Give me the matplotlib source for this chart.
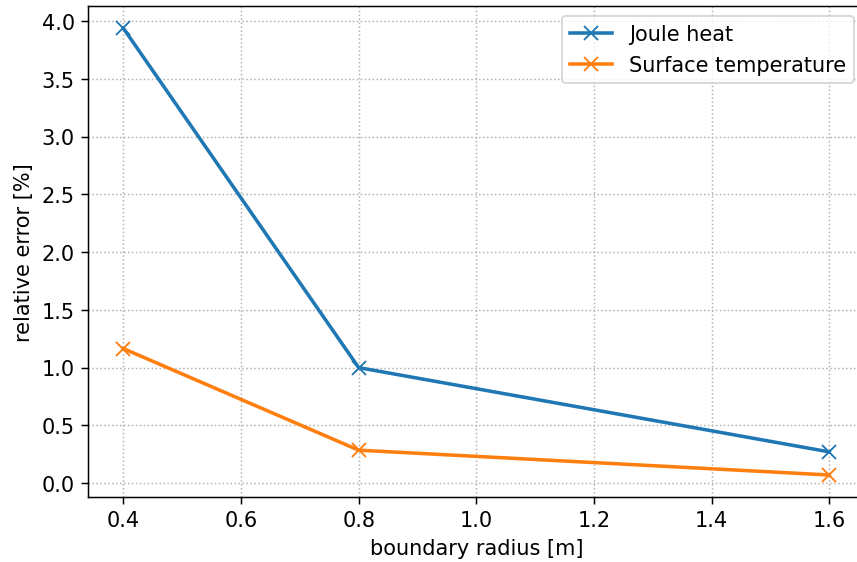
import matplotlib
matplotlib.use('Agg')
import matplotlib.pyplot as plt

plt.rcParams['font.size'] = 11.2

# relative error vs. boundary radius
radius = [0.4, 0.8, 1.6]
joule_heat = [3.94, 1.0, 0.27]
surface_temp = [1.165, 0.285, 0.07]

fig = plt.figure(figsize=(6.4, 4.2), dpi=134)
# axes run a little past the right edge of the canvas
ax = fig.add_axes([0.1026, 0.1149, 0.9056, 0.8734])
ax.plot(radius, joule_heat, marker='x', markersize=7.5, linewidth=1.9, label='Joule heat')
ax.plot(radius, surface_temp, marker='x', markersize=7.5, linewidth=1.9, label='Surface temperature')
ax.set_xlabel('boundary radius [m]')
ax.set_ylabel('relative error [%]')
ax.grid(True, linestyle=':', color='#b0b0b0')
ax.spines['right'].set_visible(False)
ax.legend(loc='upper right')
fig.savefig('out.png', dpi=134)
